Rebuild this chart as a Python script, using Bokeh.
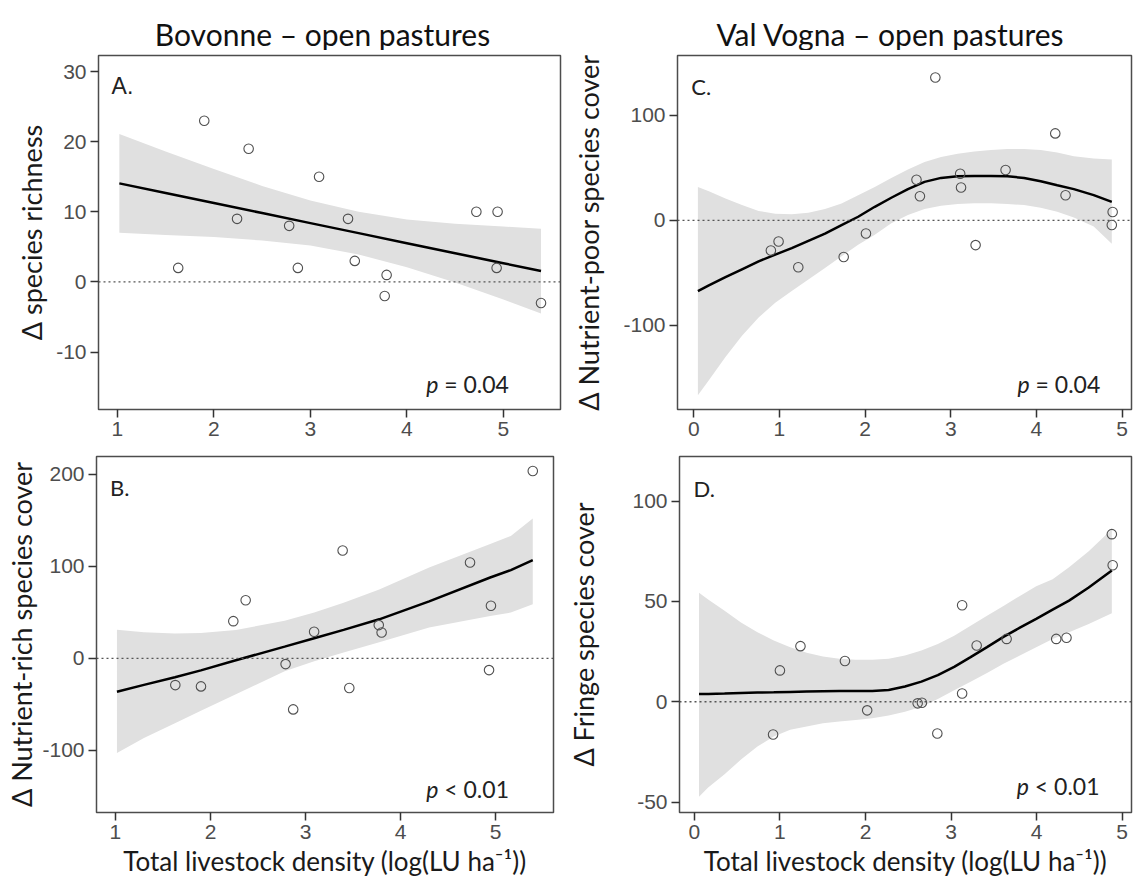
from bokeh.plotting import figure
from bokeh.layouts import column, row
from bokeh.models import FixedTicker, Span, Label, CustomJSTickFormatter, Range1d
from bokeh.core.properties import value
from bokeh.embed import file_html
from bokeh.resources import INLINE

# ---------------- data ----------------
# Panel A - Bovonne, change in species richness
a_x = [1.63, 1.90, 2.24, 2.36, 2.78, 2.87, 3.09, 3.39, 3.46, 3.77, 3.79, 4.72, 4.93, 4.94, 5.39]
a_y = [2, 23, 9, 19, 8, 2, 15, 9, 3, -2, 1, 10, 2, 10, -3]
a_fit_x = [1.02, 1.5, 2.0, 2.5, 3.0, 3.5, 4.0, 4.5, 5.0, 5.39]
a_fit_y = [14.06, 12.69, 11.25, 9.82, 8.39, 6.96, 5.53, 4.10, 2.67, 1.55]
a_upper = [21.1, 18.6, 16.1, 13.7, 11.6, 10.0, 8.9, 8.3, 7.9, 7.6]
a_lower = [7.0, 6.7, 6.4, 5.9, 5.2, 3.9, 2.1, -0.1, -2.5, -4.5]

# Panel B - Bovonne, change in nutrient-rich species cover
b_x = [1.63, 1.90, 2.24, 2.37, 2.79, 2.87, 3.09, 3.39, 3.46, 3.77, 3.80, 4.73, 4.93, 4.95, 5.39]
b_y = [-29.0, -30.4, 40.5, 63.3, -6.2, -55.4, 29.0, 117.3, -32.2, 36.2, 28.2, 104.2, -12.7, 57.2, 203.8]
b_fit_x = [1.016, 1.3, 1.626, 1.899, 2.267, 2.78, 3.091, 3.4, 3.775, 4.3, 4.942, 5.159, 5.39]
b_fit_y = [-36.2, -28.8, -20.4, -13.0, -2.0, 12.8, 22.0, 31.0, 42.5, 62.0, 88.0, 96.0, 106.8]
b_upper = [31.1, 28.5, 27.0, 27.5, 30.8, 41.0, 50.0, 60.5, 75.0, 98.8, 124.5, 133.2, 152.0]
b_lower = [-102.8, -86.5, -70.5, -57.0, -39.0, -14.0, -3.0, 6.5, 17.5, 33.7, 46.0, 49.9, 59.0]

# Panel C - Val Vogna, change in nutrient-poor species cover
c_x = [0.90, 0.99, 1.22, 1.75, 2.01, 2.60, 2.64, 2.82, 3.11, 3.12, 3.29, 3.64, 4.22, 4.34, 4.89, 4.88]
c_y = [-28.7, -20.2, -44.7, -35.0, -12.6, 38.7, 23.0, 136.0, 44.4, 31.2, -23.6, 47.9, 82.8, 23.9, 7.9, -4.4]
c_fit_x = [0.048, 0.176, 0.370, 0.563, 0.757, 0.951, 1.144, 1.338, 1.532, 1.725, 1.919, 2.113, 2.306,
           2.50, 2.694, 2.887, 3.081, 3.275, 3.469, 3.662, 3.856, 4.05, 4.243, 4.437, 4.669, 4.88]
c_fit_y = [-67.4, -62.0, -54.2, -46.7, -39.1, -32.7, -26.4, -19.5, -12.6, -4.6, 3.4, 12.9, 21.5,
           29.7, 36.6, 40.4, 42.0, 42.2, 42.2, 41.9, 40.4, 37.2, 33.4, 29.7, 24.0, 17.6]
c_upper = [31.8, 27.7, 20.8, 14.5, 8.9, 6.3, 5.7, 7.3, 10.7, 16.1, 23.9, 31.8, 40.3,
           48.5, 55.5, 60.2, 63.3, 65.5, 67.0, 68.0, 68.0, 67.0, 64.5, 61.0, 59.0, 58.0]
c_lower = [-166.6, -152.4, -130.3, -109.9, -92.5, -78.4, -67.4, -56.3, -45.3, -34.3, -23.3, -13.8, -2.8,
           5.1, 10.7, 13.9, 15.5, 16.2, 16.2, 15.5, 14.5, 12.0, 8.2, 2.6, -5.9, -22.4]

# Panel D - Val Vogna, change in fringe species cover
d_x = [0.92, 1.00, 1.24, 1.76, 2.02, 2.61, 2.66, 2.84, 3.13, 3.13, 3.30, 3.65, 4.23, 4.35, 4.88, 4.89]
d_y = [-16.3, 15.6, 27.7, 20.3, -4.3, -0.8, -0.5, -15.8, 48.1, 4.1, 28.0, 31.3, 31.3, 31.9, 83.5, 68.0]
d_fit_x = [0.054, 0.161, 0.353, 0.545, 0.737, 0.928, 1.120, 1.312, 1.503, 1.695, 1.887, 2.079, 2.271,
           2.462, 2.654, 2.846, 3.037, 3.229, 3.421, 3.613, 3.805, 3.996, 4.188, 4.38, 4.61, 4.88]
d_fit_y = [3.8, 3.9, 4.1, 4.4, 4.6, 4.7, 4.9, 5.1, 5.2, 5.3, 5.3, 5.4, 5.8,
           7.6, 10.0, 13.3, 17.4, 22.2, 27.2, 32.3, 36.9, 41.3, 45.9, 50.4, 56.9, 65.4]
d_upper = [54.3, 51.0, 45.3, 39.5, 34.6, 30.5, 27.2, 24.4, 22.5, 21.4, 20.9, 20.9, 21.4,
           23.0, 25.5, 28.8, 32.9, 37.9, 42.8, 47.7, 52.7, 57.5, 61.0, 67.0, 75.0, 86.0]
d_lower = [-47.4, -42.8, -36.2, -28.8, -22.3, -17.3, -14.0, -12.4, -10.7, -9.9, -9.1, -8.2, -6.9,
           -5.0, -2.5, 1.3, 5.7, 9.9, 14.3, 18.9, 23.0, 27.2, 31.3, 34.6, 38.7, 44.1]

ticks_x_bov = [1, 2, 3, 4, 5]
ticks_x_val = [0, 1, 2, 3, 4, 5]
ticks_y_a = [-10, 0, 10, 20, 30]
ticks_y_b = [-100, 0, 100, 200]
ticks_y_c = [-100, 0, 100]
ticks_y_d = [-50, 0, 50, 100]

column_titles = ["Bovonne \u2013 open pastures", "Val Vogna \u2013 open pastures"]
XLABEL = "Total livestock density (log(LU ha\u207b\u00b9))"

LABEL_FONT = "Lato"
TICK_FONT = "Liberation Sans"

W_LEFT = 562
W_RIGHT = 573
H_TITLE = 50


def title_fig(width, text, center_px, baseline_px):
    t = figure(width=width, height=H_TITLE, x_range=Range1d(0, width),
               y_range=Range1d(H_TITLE, 0), output_backend="svg",
               toolbar_location=None, x_axis_type=None, y_axis_type=None,
               min_border=0)
    t.grid.visible = False
    t.outline_line_color = None
    t.background_fill_color = "white"
    t.border_fill_color = "white"
    t.title.visible = False
    t.text(x=[center_px], y=[baseline_px], text=[text],
           text_font=value(LABEL_FONT), text_font_size="30px",
           text_color="#111111", text_align="center",
           text_baseline="alphabetic")
    return t


def panel(width, height, borders, xr, yr, xt, yt, px, py, fx, fy, lo, hi,
          ylabel, ylab_standoff, letter, letter_xy, letter_font, letter_size,
          ptxt, p_xy, xlabel=None):
    left, right, top, bottom = borders
    p = figure(width=width, height=height, x_range=xr, y_range=yr,
               output_backend="svg", toolbar_location=None,
               min_border_left=left, min_border_right=right,
               min_border_top=top, min_border_bottom=bottom)
    p.title.visible = False
    p.grid.visible = False
    p.background_fill_color = "white"
    p.border_fill_color = "white"
    p.outline_line_color = "#4d4d4d"
    p.outline_line_width = 1.5
    for ax in p.axis:
        ax.axis_line_color = None
        ax.major_tick_out = 8
        ax.major_tick_in = 0
        ax.minor_tick_out = 0
        ax.minor_tick_in = 0
        ax.major_tick_line_color = "#333333"
        ax.major_tick_line_width = 1.5
        ax.major_label_text_font = TICK_FONT
        ax.major_label_text_font_size = "21px"
        ax.major_label_text_color = "#4d4d4d"
        ax.major_label_standoff = 4
        ax.formatter = CustomJSTickFormatter(code="return tick.toString();")
        ax.axis_label_text_font = LABEL_FONT
        ax.axis_label_text_font_style = "normal"
        ax.axis_label_text_color = "#1a1a1a"
    p.yaxis.axis_label_text_font_size = "27px"
    p.xaxis.axis_label_text_font_size = "26px"
    p.xaxis.ticker = FixedTicker(ticks=xt)
    p.yaxis.ticker = FixedTicker(ticks=yt)
    p.yaxis.axis_label = ylabel
    p.yaxis.axis_label_standoff = ylab_standoff
    if xlabel:
        p.xaxis.axis_label = xlabel
        p.xaxis.axis_label_standoff = 3

    p.varea(x=fx, y1=lo, y2=hi, fill_color="#e0e0e0", fill_alpha=1.0)
    p.add_layout(Span(location=0, dimension="width", line_color="#555555",
                      line_dash="2 3", line_width=1.3))
    p.line(fx, fy, line_color="black", line_width=2.5)
    p.scatter(px, py, marker="circle", size=9.5, fill_color=None,
              line_color="#505050", line_width=1.1)

    p.add_layout(Label(x=letter_xy[0], y=letter_xy[1], text=letter,
                       text_font=letter_font, text_font_size=letter_size,
                       text_color="#222222", text_align="left",
                       text_baseline="alphabetic"))
    p.add_layout(Label(x=p_xy[0], y=p_xy[1], text="p",
                       text_font=LABEL_FONT, text_font_size="23px",
                       text_font_style="italic", text_color="#222222",
                       text_baseline="alphabetic"))
    p.add_layout(Label(x=p_xy[0], y=p_xy[1], x_offset=18, text=ptxt,
                       text_font=LABEL_FONT, text_font_size="23px",
                       text_color="#222222", text_baseline="alphabetic"))
    return p


ta = title_fig(W_LEFT, column_titles[0], 322, 33)
tc = title_fig(W_RIGHT, column_titles[1], 890 - W_LEFT, 33)

pa = panel(W_LEFT, 400, (98, 2, 5, 37), (0.804, 5.592), (-18.2, 32.3),
           ticks_x_bov, ticks_y_a, a_x, a_y, a_fit_x, a_fit_y, a_lower, a_upper,
           "\u0394 species richness", 5, "A.", (0.94, 27.9), TICK_FONT, "23px",
           "= 0.04", (4.20, -14.5))

pc = panel(W_RIGHT, 400, (115, 4, 2, 41), (-0.19, 5.11), (-180.2, 157.0),
           ticks_x_val, ticks_y_c, c_x, c_y, c_fit_x, c_fit_y, c_lower, c_upper,
           "\u0394 Nutrient-poor species cover", 15, "C.", (-0.03, 127.9), LABEL_FONT, "22px",
           "= 0.04", (3.78, -155.6))

pb = panel(W_LEFT, 435, (96, 9, 5, 73), (0.801, 5.608), (-167.5, 219.5),
           ticks_x_bov, ticks_y_b, b_x, b_y, b_fit_x, b_fit_y, b_lower, b_upper,
           "\u0394 Nutrient-rich species cover", 1, "B.", (0.943, 185.7), LABEL_FONT, "22px",
           "< 0.01", (4.27, -141.9), xlabel=XLABEL)

pd_ = panel(W_RIGHT, 435, (117, 4, 6, 70), (-0.174, 5.11), (-55.2, 122.2),
            ticks_x_val, ticks_y_d, d_x, d_y, d_fit_x, d_fit_y, d_lower, d_upper,
            "\u0394 Fringe species cover", 29, "D.", (-0.01, 106.2), LABEL_FONT, "22px",
            "< 0.01", (3.77, -42.0), xlabel=XLABEL)

layout = column(row(ta, tc), row(pa, pc), row(pb, pd_))

open("out.html", "w").write(file_html(layout, INLINE))
